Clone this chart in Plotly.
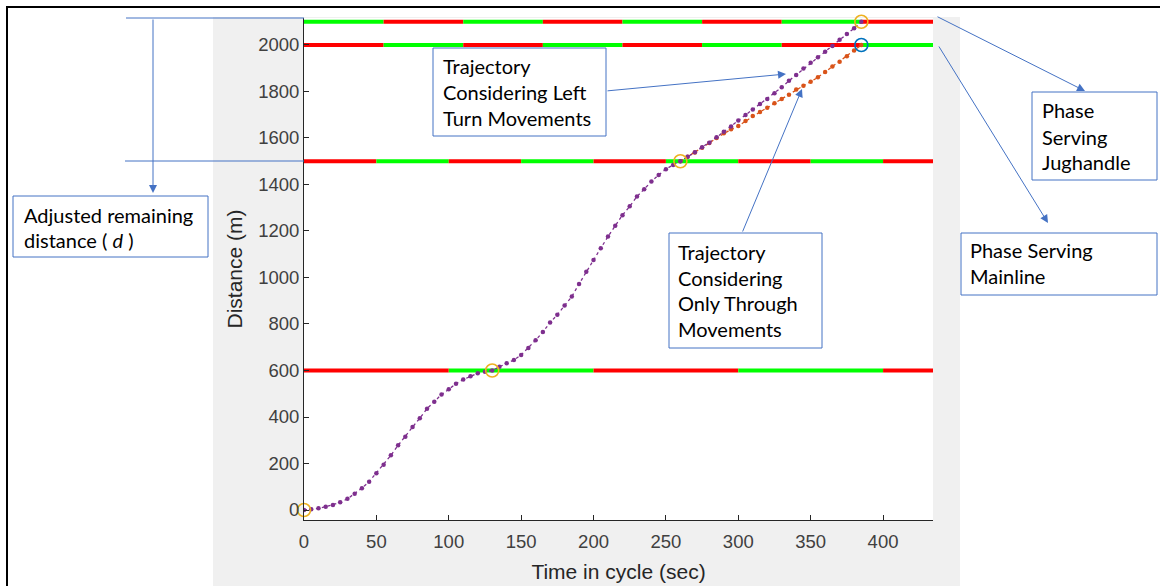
import plotly.graph_objects as go

# ---------------- data ----------------
# trajectory that takes the left-turn (jughandle) movement into account
time_left = [0, 5, 10, 15, 20, 25, 30, 35, 40, 45, 50, 55, 60, 65, 70, 75, 80, 85, 90, 95,
             100, 105, 110, 115, 120, 125, 130, 135, 140, 145, 150, 155, 160, 165, 170, 175,
             180, 185, 190, 195, 200, 205, 210, 215, 220, 225, 230, 235, 240, 245, 250, 255,
             260, 265, 270, 275, 280, 285, 290, 295, 300, 305, 310, 315, 320, 325, 330, 335,
             340, 345, 350, 355, 360, 365, 370, 375, 380, 385]
dist_left = [0, 3, 7, 14, 22, 33, 48, 70, 94, 122, 158, 195, 235, 278, 315, 357, 395, 436,
             466, 497, 519, 543, 561, 575, 588, 595, 600, 616, 631, 645, 667, 697, 730, 766,
             806, 840, 880, 918, 972, 1025, 1075, 1126, 1176, 1222, 1268, 1306, 1348, 1380,
             1413, 1441, 1466, 1484, 1500, 1519, 1539, 1560, 1580, 1603, 1627, 1649, 1675,
             1699, 1723, 1746, 1768, 1792, 1818, 1846, 1871, 1899, 1924, 1947, 1971, 1996,
             2022, 2047, 2072, 2100]

# trajectory that considers only through movements (after the 1500 m signal)
time_thru = [260, 265, 270, 275, 280, 285, 290, 295, 300, 305, 310, 315, 320, 325, 330,
             335, 340, 345, 350, 355, 360, 365, 370, 375, 380, 385]
dist_thru = [1500, 1519, 1538, 1558, 1578, 1600, 1620, 1637, 1652, 1673, 1694, 1712, 1730,
             1749, 1768, 1786, 1808, 1825, 1842, 1861, 1884, 1907, 1928, 1952, 1976, 2000]

# signal crossing points
cross_time = [0, 130, 260, 385]
cross_dist = [0, 600, 1500, 2100]
thru_end_time = [385]
thru_end_dist = [2000]

# signal heads: location, phase change times and the state of the first phase
X_END = 434.5
signal_dist = [600, 1500, 2000, 2100]
signal_switch = [
    [0, 100, 200, 300, 400, X_END],
    [0, 50, 100, 150, 200, 250, 300, 350, 400, X_END],
    [0, 55, 110, 165, 220, 275, 330, 385, X_END],
    [0, 55, 110, 165, 220, 275, 330, 385, X_END],
]
signal_first = ["red", "red", "red", "green"]

x_ticks = [0, 50, 100, 150, 200, 250, 300, 350, 400]
y_ticks = [0, 200, 400, 600, 800, 1000, 1200, 1400, 1600, 1800, 2000]

# ---------------- figure ----------------
W_PX, H_PX = 1160, 586
L, R, T, B = 304, 933, 18, 520


def px(x):
    return (x - L) / (R - L)


def py(y):
    return (B - y) / (B - T)


RED, GREEN = "#FF0000", "#00FF00"
PURPLE, ORANGE = "#7E2F8E", "#D95319"
GOLD, BLUE = "#EDB120", "#0072BD"
OFFICE = "#4472C4"

fig = go.Figure()

for d, sw, first in zip(signal_dist, signal_switch, signal_first):
    state = first
    for a, b in zip(sw[:-1], sw[1:]):
        fig.add_trace(go.Scatter(
            x=[a, b], y=[d, d], mode="lines",
            line=dict(color=RED if state == "red" else GREEN, width=4),
            hoverinfo="skip", cliponaxis=False))
        state = "green" if state == "red" else "red"

fig.add_trace(go.Scatter(
    x=time_thru, y=dist_thru, mode="lines+markers",
    line=dict(color=ORANGE, width=1.3, dash="dot"),
    marker=dict(color=ORANGE, size=4.5)))
fig.add_trace(go.Scatter(
    x=time_left, y=dist_left, mode="lines+markers",
    line=dict(color=PURPLE, width=1.3, dash="dot"),
    marker=dict(color=PURPLE, size=4.5)))

fig.add_trace(go.Scatter(
    x=cross_time, y=cross_dist, mode="markers", cliponaxis=False,
    marker=dict(symbol="circle-open", size=13, color=GOLD, line=dict(width=1.6))))
fig.add_trace(go.Scatter(
    x=thru_end_time, y=thru_end_dist, mode="markers", cliponaxis=False,
    marker=dict(symbol="circle-open", size=13, color=BLUE, line=dict(width=1.6))))

shapes = [
    # figure background and axes area
    dict(type="rect", xref="paper", yref="paper", x0=px(213), x1=px(960),
         y0=py(W_PX), y1=py(17), fillcolor="#F0F0F0", line=dict(width=0), layer="below"),
    dict(type="rect", xref="paper", yref="paper", x0=0, x1=1, y0=0, y1=1,
         fillcolor="white", line=dict(width=0), layer="below"),
    # outer frame
    dict(type="line", xref="paper", yref="paper", x0=px(6), x1=px(1160),
         y0=py(7), y1=py(7), line=dict(color="black", width=2)),
    dict(type="line", xref="paper", yref="paper", x0=px(7), x1=px(7),
         y0=py(6), y1=py(586), line=dict(color="black", width=2)),
    # dimension lines for the remaining distance
    dict(type="line", xref="paper", yref="paper", x0=px(126), x1=px(304),
         y0=py(18), y1=py(18), line=dict(color=OFFICE, width=1)),
    dict(type="line", xref="paper", yref="paper", x0=px(125), x1=px(304),
         y0=py(161), y1=py(161), line=dict(color=OFFICE, width=1)),
]

boxes = [(433, 48, 606, 136), (669, 233, 822, 348), (1032, 92, 1157, 180),
         (961, 233, 1157, 295), (13, 196, 208, 257)]
for x0, y0, x1, y1 in boxes:
    shapes.append(dict(type="rect", xref="paper", yref="paper",
                       x0=px(x0), x1=px(x1), y0=py(y1), y1=py(y0),
                       fillcolor="white", line=dict(color=OFFICE, width=1), layer="above"))

annotations = []
# arrows: (tail x, tail y, tip x, tip y)
arrows = [(153, 18, 153, 193), (606, 91, 786, 74), (742, 233, 802, 89),
          (936, 16, 1085, 91), (938, 45, 1048, 223)]
for tx, ty, hx, hy in arrows:
    annotations.append(dict(
        xref="paper", yref="paper", x=px(hx), y=py(hy), text="",
        showarrow=True, ax=tx - hx, ay=ty - hy, arrowhead=2, arrowsize=1.6,
        arrowwidth=1, arrowcolor=OFFICE, standoff=0))

callouts = [
    (441, [66, 92, 118], ["Trajectory", "Considering Left", "Turn Movements"]),
    (676, [252, 278, 303, 329], ["Trajectory", "Considering", "Only Through", "Movements"]),
    (1040, [110, 137, 162], ["Phase", "Serving", "Jughandle"]),
    (968, [250, 276], ["Phase Serving", "Mainline"]),
    (22, [215, 240], ["Adjusted remaining", "distance ( <i>d</i> )"]),
]
for x, ys, lines in callouts:
    for y, s in zip(ys, lines):
        annotations.append(dict(
            xref="paper", yref="paper", x=px(x), y=py(y), text=s, showarrow=False,
            xanchor="left", yanchor="middle",
            font=dict(family="Lato", size=20, color="black")))

axis_font = dict(family="Liberation Sans, Arial", size=18.5, color="#404040")
title_font = dict(family="Liberation Sans, Arial", size=21, color="#262626")

fig.update_layout(
    width=W_PX, height=H_PX,
    margin=dict(l=L, r=W_PX - R, t=T, b=H_PX - B, pad=0, autoexpand=False),
    paper_bgcolor="white", plot_bgcolor="white",
    showlegend=False,
    shapes=shapes, annotations=annotations,
    xaxis=dict(range=[0, X_END], tickvals=x_ticks, ticks="inside", ticklen=5,
               tickcolor="#262626", showline=True, linecolor="#262626", linewidth=1,
               showgrid=False, zeroline=False, tickfont=axis_font, ticklabelstandoff=5,
               automargin=False,
               title=dict(text="Time in cycle (sec)", font=title_font, standoff=13)),
    yaxis=dict(range=[-43, 2116], tickvals=y_ticks, ticks="inside", ticklen=5,
               tickcolor="#262626", showline=True, linecolor="#262626", linewidth=1,
               showgrid=False, zeroline=False, tickfont=axis_font, automargin=False,
               title=dict(text="Distance (m)", font=title_font, standoff=9)),
)

fig.write_html("out.html")
